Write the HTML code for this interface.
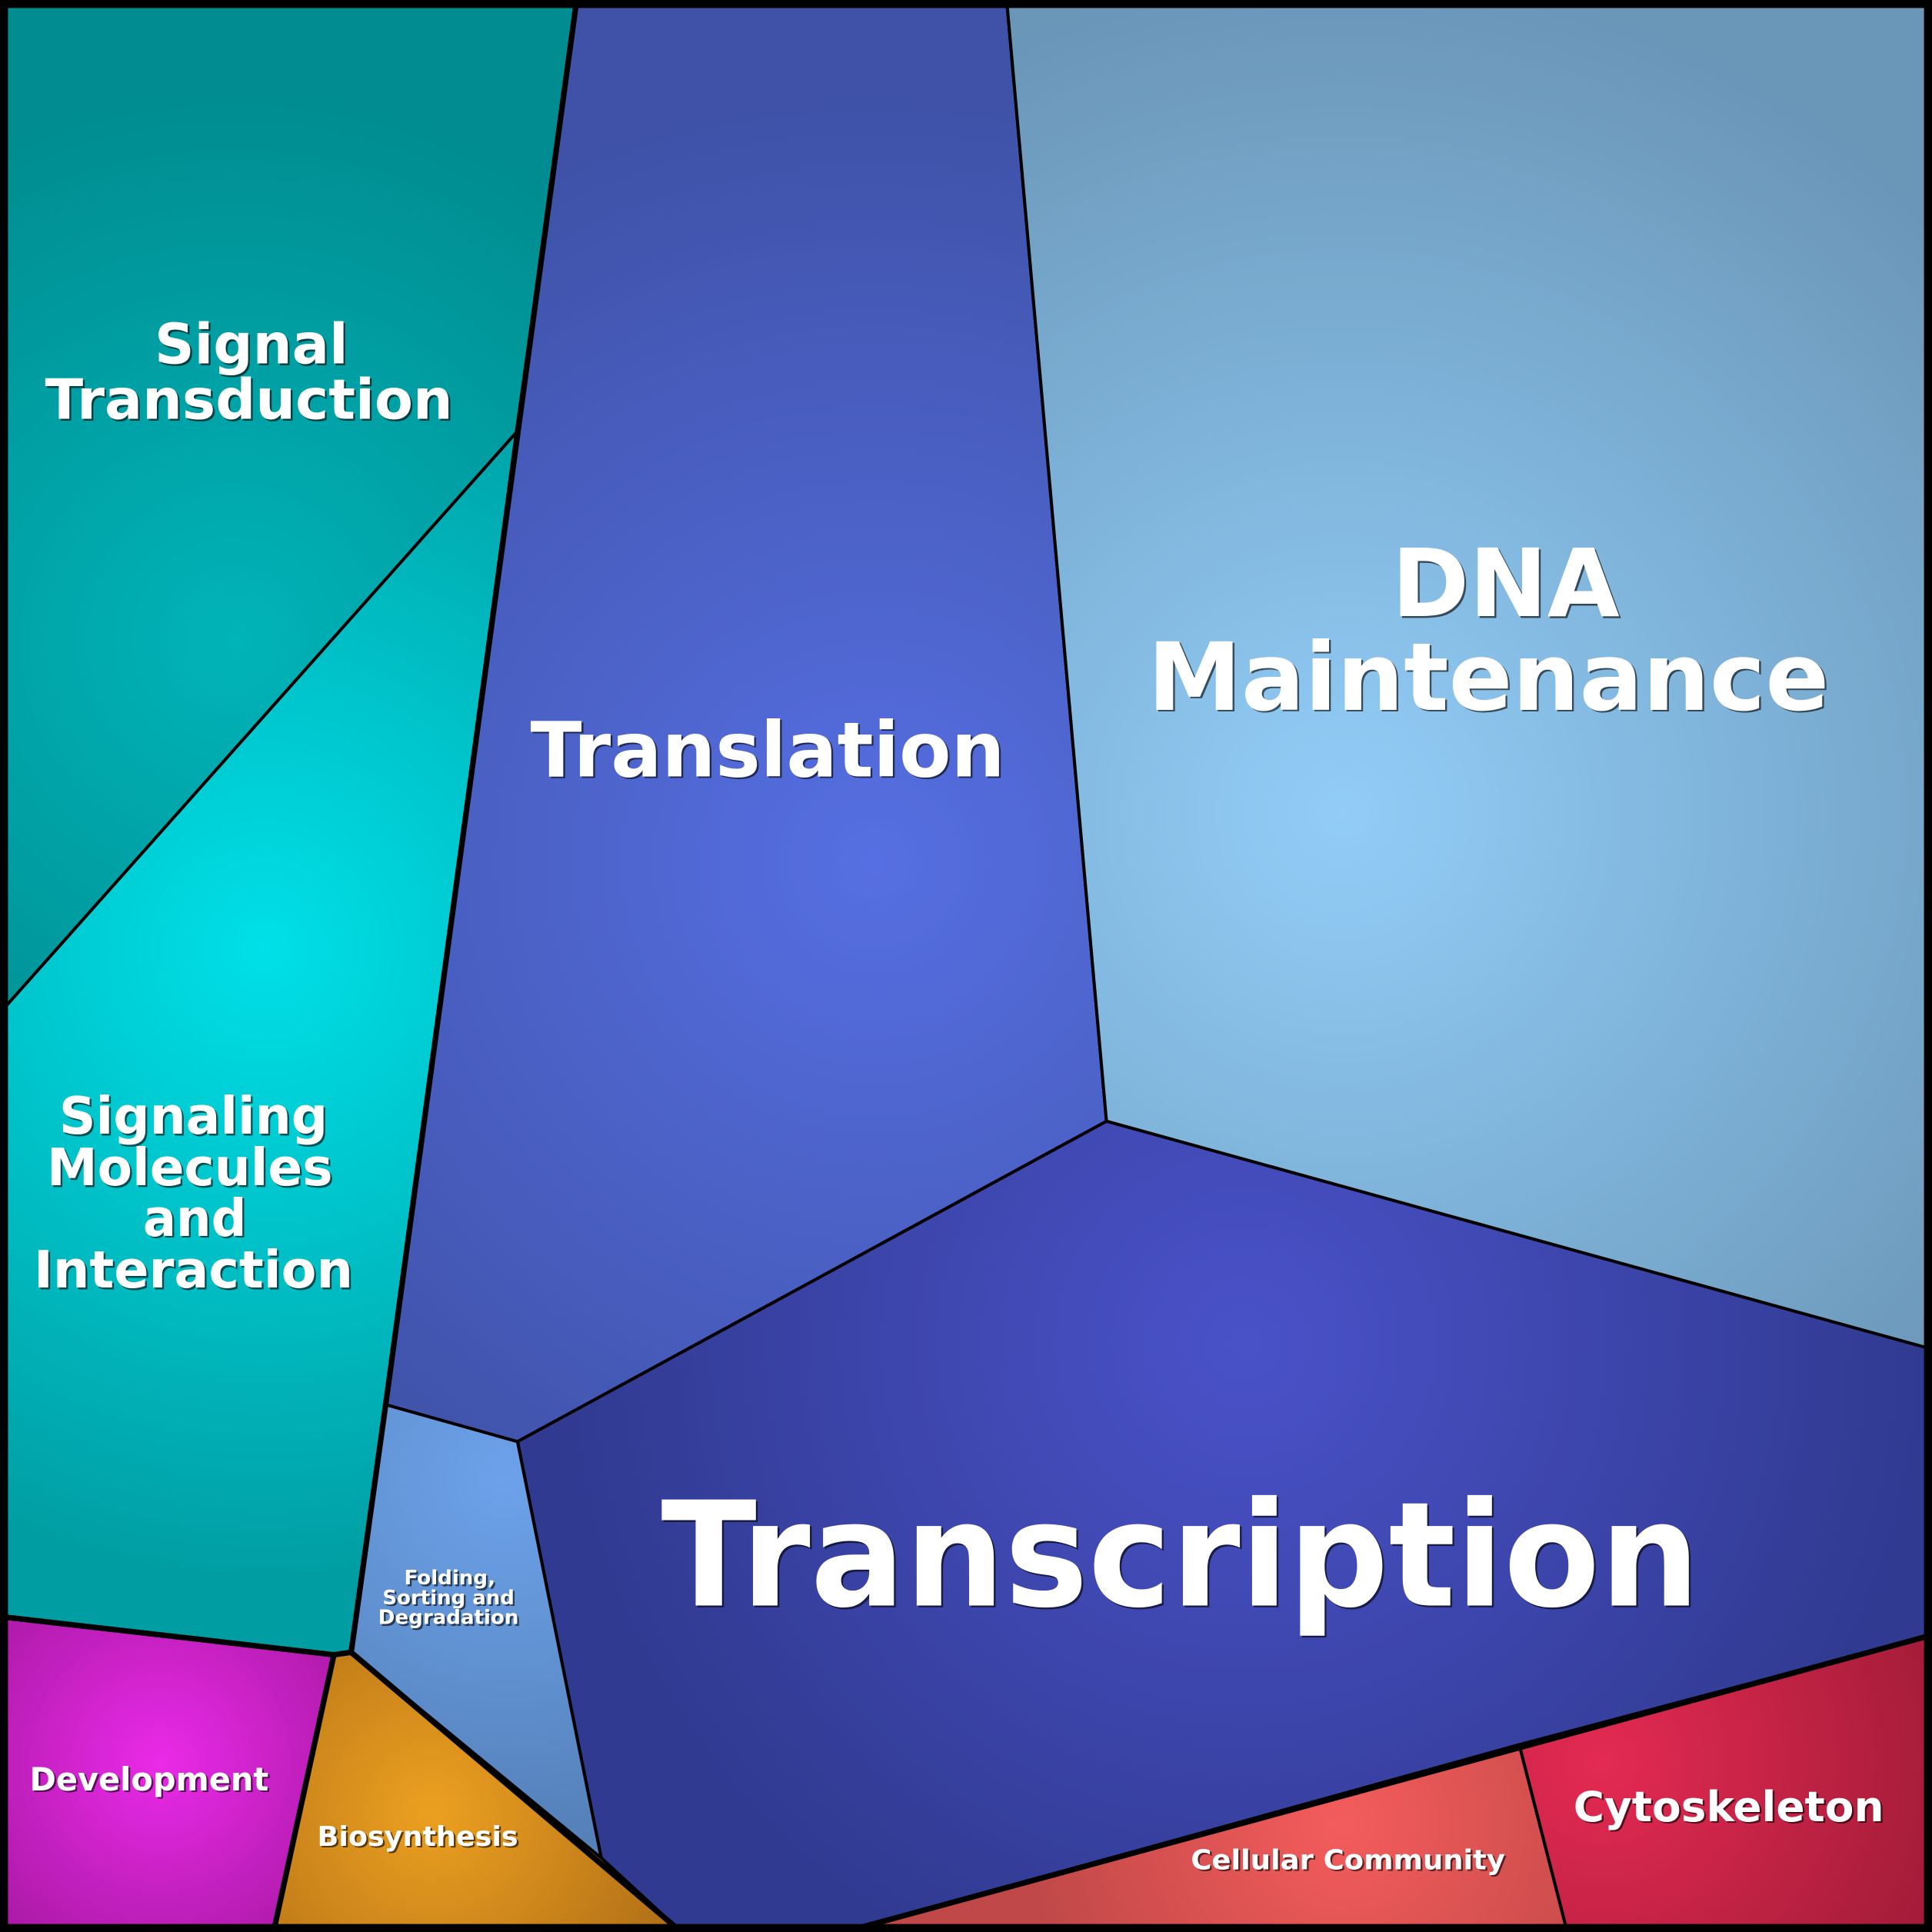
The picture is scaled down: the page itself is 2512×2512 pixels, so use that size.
<!DOCTYPE html>
<html><head><meta charset="utf-8"><style>
html,body{margin:0;padding:0;background:#fff}
svg{display:block}
text{font-family:"DejaVu Sans","Liberation Sans",sans-serif;font-weight:bold;fill:#fff;text-anchor:middle}
.sh{fill:#000;opacity:0.6}
</style></head><body>
<svg width="2512" height="2512" viewBox="0 0 1568 1568" xmlns="http://www.w3.org/2000/svg">
<defs>
<radialGradient id="gST" gradientUnits="userSpaceOnUse" cx="190" cy="520" r="450"><stop offset="0" stop-color="#00b4b8"/><stop offset="1" stop-color="#008c90"/></radialGradient>
<radialGradient id="gSM" gradientUnits="userSpaceOnUse" cx="215" cy="770" r="520"><stop offset="0" stop-color="#00e0e8"/><stop offset="1" stop-color="#009da2"/></radialGradient>
<radialGradient id="gTL" gradientUnits="userSpaceOnUse" cx="710" cy="700" r="620"><stop offset="0" stop-color="#566fe2"/><stop offset="1" stop-color="#3f52a8"/></radialGradient>
<radialGradient id="gDNA" gradientUnits="userSpaceOnUse" cx="1090" cy="660" r="680"><stop offset="0" stop-color="#92cdf7"/><stop offset="1" stop-color="#6a96b8"/></radialGradient>
<radialGradient id="gTC" gradientUnits="userSpaceOnUse" cx="1010" cy="1090" r="560"><stop offset="0" stop-color="#4a52c9"/><stop offset="1" stop-color="#303a90"/></radialGradient>
<radialGradient id="gFD" gradientUnits="userSpaceOnUse" cx="410" cy="1200" r="300"><stop offset="0" stop-color="#6ca2ea"/><stop offset="1" stop-color="#5580b8"/></radialGradient>
<radialGradient id="gBS" gradientUnits="userSpaceOnUse" cx="350" cy="1470" r="230"><stop offset="0" stop-color="#eca020"/><stop offset="1" stop-color="#ad6c16"/></radialGradient>
<radialGradient id="gDV" gradientUnits="userSpaceOnUse" cx="130" cy="1430" r="200"><stop offset="0" stop-color="#ea2ae8"/><stop offset="1" stop-color="#a4189f"/></radialGradient>
<radialGradient id="gCC" gradientUnits="userSpaceOnUse" cx="1090" cy="1480" r="260"><stop offset="0" stop-color="#f45c5c"/><stop offset="1" stop-color="#c04848"/></radialGradient>
<radialGradient id="gCS" gradientUnits="userSpaceOnUse" cx="1300" cy="1430" r="320"><stop offset="0" stop-color="#e42a52"/><stop offset="1" stop-color="#9c1a36"/></radialGradient>
</defs>
<g stroke="#000" stroke-width="2.5" stroke-linejoin="round">
<polygon fill="url(#gST)" points="0,0 468,0 419,351 0,822"/>
<polygon fill="url(#gSM)" points="0,822 419,351 313,1140 285,1341 271,1343 0,1312"/>
<polygon fill="url(#gTL)" points="468,0 817,0 898,910 420,1170 313,1140"/>
<polygon fill="url(#gDNA)" points="817,0 1568,0 1568,1095 898,910"/>
<polygon fill="url(#gTC)" points="898,910 1568,1095 1568,1327 1233,1416 685,1568 553,1568 488,1508 420,1170"/>
<polygon fill="url(#gFD)" points="313,1140 420,1170 488,1508 285,1341"/>
<polygon fill="url(#gBS)" points="285,1341 488,1508 553,1568 222,1568 271,1343"/>
<polygon fill="url(#gDV)" points="0,1312 271,1343 222,1568 0,1568"/>
<polygon fill="url(#gCC)" points="685,1568 1233,1416 1272,1568"/>
<polygon fill="url(#gCS)" points="1233,1416 1568,1327 1568,1568 1272,1568"/>
</g>
<g fill="none" stroke="#000" stroke-width="4.5">
<polyline points="468,0 313,1140 285,1341 271,1343 0,1312"/>
<polyline points="271,1343 222,1568"/>
<polyline points="285,1341 553,1568"/>
<polyline points="685,1568 1568,1327"/>
</g>
<rect x="3" y="3" width="1562" height="1562" fill="none" stroke="#000" stroke-width="7"/>
<g id="labels">
<g transform="translate(1.5,1.5)" class="shg">
<text class="sh" x="204" y="295" font-size="45" textLength="157" lengthAdjust="spacingAndGlyphs">Signal</text>
<text class="sh" x="202" y="340" font-size="45" textLength="331" lengthAdjust="spacingAndGlyphs">Transduction</text>
<text class="sh" x="1222" y="500" font-size="76" textLength="185" lengthAdjust="spacingAndGlyphs">DNA</text>
<text class="sh" x="1208" y="576" font-size="76" textLength="553" lengthAdjust="spacingAndGlyphs">Maintenance</text>
<text class="sh" x="623" y="630" font-size="62" textLength="385" lengthAdjust="spacingAndGlyphs">Translation</text>
<text class="sh" x="157" y="920" font-size="42" textLength="218" lengthAdjust="spacingAndGlyphs">Signaling</text>
<text class="sh" x="154" y="962" font-size="42" textLength="232" lengthAdjust="spacingAndGlyphs">Molecules</text>
<text class="sh" x="158" y="1003" font-size="42" textLength="84" lengthAdjust="spacingAndGlyphs">and</text>
<text class="sh" x="157" y="1045" font-size="42" textLength="259" lengthAdjust="spacingAndGlyphs">Interaction</text>
<text class="sh" x="958" y="1303" font-size="118" textLength="843" lengthAdjust="spacingAndGlyphs">Transcription</text>
<text class="sh" x="365" y="1286" font-size="16" textLength="74" lengthAdjust="spacingAndGlyphs">Folding,</text>
<text class="sh" x="364" y="1302" font-size="16" textLength="107" lengthAdjust="spacingAndGlyphs">Sorting and</text>
<text class="sh" x="364" y="1318" font-size="16" textLength="114" lengthAdjust="spacingAndGlyphs">Degradation</text>
<text class="sh" x="121" y="1453" font-size="26" textLength="194" lengthAdjust="spacingAndGlyphs">Development</text>
<text class="sh" x="339" y="1498" font-size="22" textLength="163" lengthAdjust="spacingAndGlyphs">Biosynthesis</text>
<text class="sh" x="1094" y="1517" font-size="22" textLength="255" lengthAdjust="spacingAndGlyphs">Cellular Community</text>
<text class="sh" x="1403" y="1478" font-size="34" textLength="252" lengthAdjust="spacingAndGlyphs">Cytoskeleton</text>
</g>
<text x="204" y="295" font-size="45" textLength="157" lengthAdjust="spacingAndGlyphs">Signal</text>
<text x="202" y="340" font-size="45" textLength="331" lengthAdjust="spacingAndGlyphs">Transduction</text>
<text x="1222" y="500" font-size="76" textLength="185" lengthAdjust="spacingAndGlyphs">DNA</text>
<text x="1208" y="576" font-size="76" textLength="553" lengthAdjust="spacingAndGlyphs">Maintenance</text>
<text x="623" y="630" font-size="62" textLength="385" lengthAdjust="spacingAndGlyphs">Translation</text>
<text x="157" y="920" font-size="42" textLength="218" lengthAdjust="spacingAndGlyphs">Signaling</text>
<text x="154" y="962" font-size="42" textLength="232" lengthAdjust="spacingAndGlyphs">Molecules</text>
<text x="158" y="1003" font-size="42" textLength="84" lengthAdjust="spacingAndGlyphs">and</text>
<text x="157" y="1045" font-size="42" textLength="259" lengthAdjust="spacingAndGlyphs">Interaction</text>
<text x="958" y="1303" font-size="118" textLength="843" lengthAdjust="spacingAndGlyphs">Transcription</text>
<text x="365" y="1286" font-size="16" textLength="74" lengthAdjust="spacingAndGlyphs">Folding,</text>
<text x="364" y="1302" font-size="16" textLength="107" lengthAdjust="spacingAndGlyphs">Sorting and</text>
<text x="364" y="1318" font-size="16" textLength="114" lengthAdjust="spacingAndGlyphs">Degradation</text>
<text x="121" y="1453" font-size="26" textLength="194" lengthAdjust="spacingAndGlyphs">Development</text>
<text x="339" y="1498" font-size="22" textLength="163" lengthAdjust="spacingAndGlyphs">Biosynthesis</text>
<text x="1094" y="1517" font-size="22" textLength="255" lengthAdjust="spacingAndGlyphs">Cellular Community</text>
<text x="1403" y="1478" font-size="34" textLength="252" lengthAdjust="spacingAndGlyphs">Cytoskeleton</text>
</g>
</svg>
</body></html>
